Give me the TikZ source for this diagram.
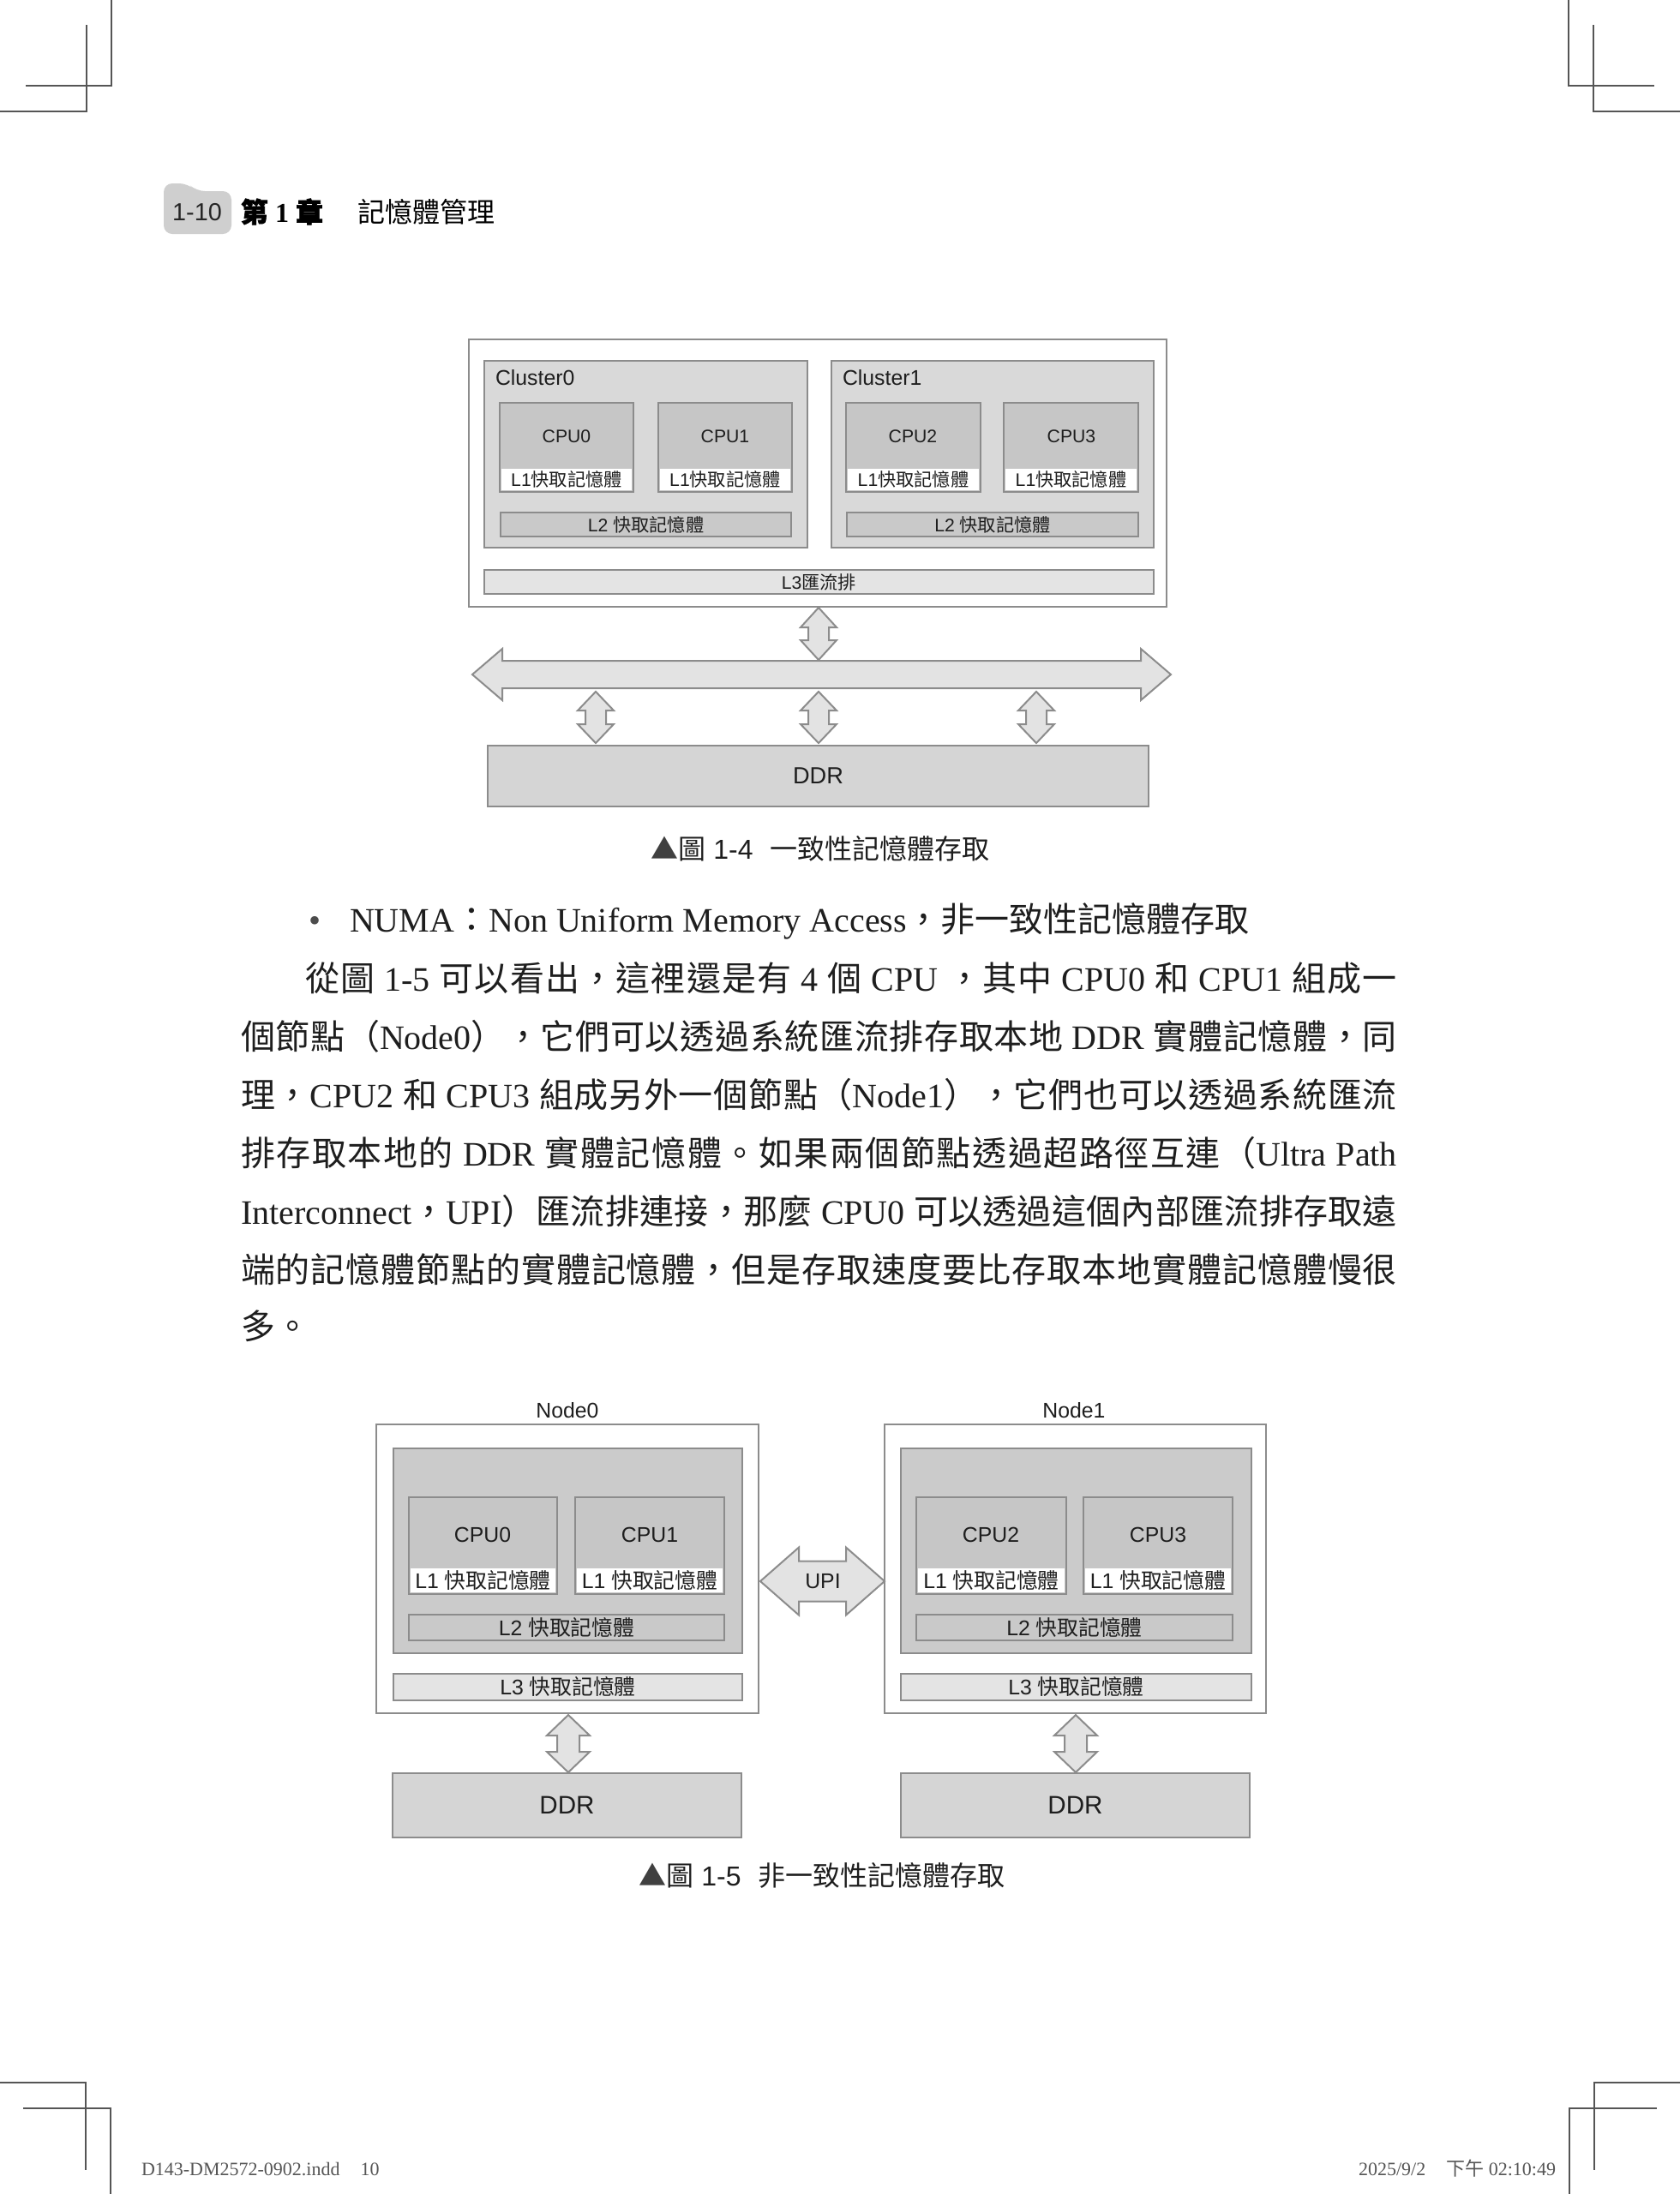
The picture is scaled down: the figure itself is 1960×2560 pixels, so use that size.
\documentclass[tikz,border=0pt]{standalone}
\usepackage{fontspec}
\setmainfont{Liberation Sans}
\newfontfamily\cjk{Noto Sans CJK TC}
\newfontfamily\cjkb{Noto Sans CJK TC}[FakeBold=2]
\newfontfamily\lserif{Liberation Serif}
\def\curlatin{\rmfamily}
\def\curcjk{\cjk}
% automatic font switching for CJK characters
\XeTeXinterchartokenstate=1
\chardef\CJKcls=10
\newcount\mycnt
\newcommand\setcls[2]{\mycnt=#1\relax
  \loop\XeTeXcharclass\mycnt=\CJKcls\relax
  \ifnum\mycnt<#2\relax\advance\mycnt by 1\relax\repeat}
\setcls{"3000}{"303F}
\setcls{"4E00}{"9FFF}
\setcls{"FF00}{"FFEF}
\setcls{"25B2}{"25B2}
\XeTeXinterchartoks 0 \CJKcls = {\curcjk}
\XeTeXinterchartoks 4095 \CJKcls = {\curcjk}
\XeTeXinterchartoks \CJKcls 0 = {\curlatin}
\XeTeXinterchartoks \CJKcls 4095 = {\curlatin}
\XeTeXinterchartoks \CJKcls \CJKcls = {\hskip 0pt plus 1.5pt\relax}

\definecolor{bordc}{HTML}{8C8C8C}
\definecolor{clus}{HTML}{D9D9D9}
\definecolor{cpuc}{HTML}{C6C6C6}
\definecolor{l2c}{HTML}{C9C9C9}
\definecolor{l3c}{HTML}{E4E4E4}
\definecolor{ddrc}{HTML}{D5D5D5}
\definecolor{arrc}{HTML}{E3E3E3}
\definecolor{nodein}{HTML}{CBCBCB}
\definecolor{tabc}{HTML}{CFCFCF}
\definecolor{txt}{HTML}{1E1E1E}
\definecolor{markc}{HTML}{555555}

\newcommand\bx[7]{%
  \pgfmathsetmacro\bxw{(#4-#2)*0.25}%
  \pgfmathsetmacro\bxh{(#5-#3)*0.25}%
  \node[#6, minimum width=\bxw pt, minimum height=\bxh pt] (#1) at ({(#2+#4)/2},{(#3+#5)/2}) {#7};}
% vertical double block arrow: cx, y1, y2, head width, shaft width, head length
\newcommand\varr[6]{%
  \filldraw[arrbox] (#1,#2) -- ({#1+#4/2},{#2+#6}) -- ({#1+#5/2},{#2+#6}) -- ({#1+#5/2},{#3-#6})
   -- ({#1+#4/2},{#3-#6}) -- (#1,#3) -- ({#1-#4/2},{#3-#6}) -- ({#1-#5/2},{#3-#6})
   -- ({#1-#5/2},{#2+#6}) -- ({#1-#4/2},{#2+#6}) -- cycle;}
% horizontal double block arrow: cy, x1, x2, head height, shaft height, head length
\newcommand\harr[6]{%
  \filldraw[arrbox] (#2,#1) -- ({#2+#6},{#1-#4/2}) -- ({#2+#6},{#1-#5/2}) -- ({#3-#6},{#1-#5/2})
   -- ({#3-#6},{#1-#4/2}) -- (#3,#1) -- ({#3-#6},{#1+#4/2}) -- ({#3-#6},{#1+#5/2})
   -- ({#2+#6},{#1+#5/2}) -- ({#2+#6},{#1+#4/2}) -- cycle;}

\begin{document}
\begin{tikzpicture}[x=0.25pt,y=-0.25pt,
  every node/.style={inner sep=0pt,outer sep=0pt,text=txt},
  obox/.style={draw=bordc,fill=white,line width=0.6pt},
  clbox/.style={draw=bordc,fill=clus,line width=0.5pt},
  inbox/.style={draw=bordc,fill=nodein,line width=0.5pt},
  cpubox/.style={draw=bordc,fill=cpuc,line width=0.5pt},
  band/.style={fill=white},
  l2box/.style={draw=bordc,fill=l2c,line width=0.5pt},
  l3box/.style={draw=bordc,fill=l3c,line width=0.5pt},
  ddrbox/.style={draw=bordc,fill=ddrc,line width=0.5pt},
  arrbox/.style={fill=arrc,draw=bordc,line width=0.5pt,line join=miter},
  crop/.style={draw=markc,line width=0.4pt},
  fa/.style={font=\fontsize{5.3pt}{6pt}\selectfont},
  fclu/.style={font=\fontsize{6.2pt}{7pt}\selectfont},
  fddra/.style={font=\fontsize{6.8pt}{8pt}\selectfont},
  fb/.style={font=\fontsize{6.2pt}{7pt}\selectfont},
  fddrb/.style={font=\fontsize{7.4pt}{8pt}\selectfont},
  fcap/.style={font=\fontsize{8pt}{9pt}\selectfont},
  fbody/.style={font=\def\curlatin{\lserif}\lserif\fontsize{10pt}{12pt}\selectfont},
  ffoot/.style={font=\def\curlatin{\lserif}\lserif\fontsize{5.5pt}{6pt}\selectfont,text=markc},
]
\useasboundingbox (0,0) rectangle (1960,2560);
\fill[white] (0,0) rectangle (1960,2560);

% ---------- crop marks ----------
\draw[crop] (130,0) -- (130,100) -- (30,100);
\draw[crop] (101,29) -- (101,130) -- (0,130);
\draw[crop] (1830,0) -- (1830,100) -- (1930,100);
\draw[crop] (1859,29) -- (1859,130) -- (1960,130);
\draw[crop] (0,2430) -- (100,2430) -- (100,2532);
\draw[crop] (27,2460) -- (129,2460) -- (129,2560);
\draw[crop] (1960,2430) -- (1860,2430) -- (1860,2532);
\draw[crop] (1933,2460) -- (1831,2460) -- (1831,2560);

% ---------- header ----------
\fill[tabc,rounded corners=2.5pt] (191,273) -- (191,214) -- (219,214) -- (229,223) -- (270,223) -- (270,273) -- cycle;
\node[font=\fontsize{7.2pt}{8pt}\selectfont,text=black!85] (pgno) at (230,248) {1-10};
\node[anchor=west,text=black,font=\def\curcjk{\cjkb}\def\curlatin{\lserif\bfseries}\lserif\bfseries\fontsize{8pt}{9pt}\selectfont] (chap) at (281,247) {第 1 章};
\node[anchor=west,text=black,font=\fontsize{8pt}{9pt}\selectfont] (chapt) at (417,247) {記憶體管理};

% ---------- Figure 1-4 ----------
\bx{outA}{547}{396}{1361}{708}{obox}{}
\bx{cl0}{565}{421}{942}{639}{clbox}{}
\bx{cl1}{970}{421}{1346}{639}{clbox}{}
\node[fclu,anchor=west] (cl0t) at (578,441) {Cluster0};
\node[fclu,anchor=west] (cl1t) at (983,441) {Cluster1};
\bx{cpu0}{583}{470}{739}{574}{cpubox}{}
\bx{cpu1}{768}{470}{924}{574}{cpubox}{}
\bx{cpu2}{987}{470}{1144}{574}{cpubox}{}
\bx{cpu3}{1171}{470}{1328}{574}{cpubox}{}
\bx{l1a0}{585}{547}{737}{572}{band,fa}{L1快取記憶體}
\bx{l1a1}{770}{547}{922}{572}{band,fa}{L1快取記憶體}
\bx{l1a2}{989}{547}{1142}{572}{band,fa}{L1快取記憶體}
\bx{l1a3}{1173}{547}{1326}{572}{band,fa}{L1快取記憶體}
\node[fa] (cpu0t) at (661,509) {CPU0};
\node[fa] (cpu1t) at (846,509) {CPU1};
\node[fa] (cpu2t) at (1065,509) {CPU2};
\node[fa] (cpu3t) at (1250,509) {CPU3};
\bx{l2a0}{584}{598}{923}{626}{l2box,fa}{L2 快取記憶體}
\bx{l2a1}{988}{598}{1328}{626}{l2box,fa}{L2 快取記憶體}
\bx{l3a}{565}{665}{1346}{693}{l3box,fa}{L3匯流排}
\varr{955}{709}{770}{42}{24}{23}
\harr{787}{551}{1366}{60}{32}{35}
\varr{695}{807}{867}{42}{24}{22}
\varr{955}{807}{867}{42}{24}{22}
\varr{1209}{807}{867}{42}{24}{22}
\bx{ddrA}{569}{870}{1340}{941}{ddrbox,fddra}{DDR}
\node[fcap] (capA) at (957,990) {{\color{black!75}▲}圖 1-4\hspace{5pt}一致性記憶體存取};

% ---------- body text ----------
\node[fbody,anchor=base,text=black!70] (bul) at (367,1087) {•};
\node[fbody,anchor=base west] (t1) at (408,1087) {NUMA：Non Uniform Memory Access，非一致性記憶體存取};
\node[fbody,anchor=base west] (t2) at (356,1156) {\hbox to 318.5pt{從圖 1-5 可以看出，這裡還是有 4 個 CPU ，其中 CPU0 和 CPU1 組成一}};
\node[fbody,anchor=base west] (t3) at (281,1224) {\hbox to 337.25pt{個節點（Node0），它們可以透過系統匯流排存取本地 DDR 實體記憶體，同}};
\node[fbody,anchor=base west] (t4) at (281,1292) {\hbox to 337.25pt{理，CPU2 和 CPU3 組成另外一個節點（Node1），它們也可以透過系統匯流}};
\node[fbody,anchor=base west] (t5) at (281,1360) {\hbox to 337.25pt{排存取本地的 DDR 實體記憶體。如果兩個節點透過超路徑互連（Ultra Path}};
\node[fbody,anchor=base west] (t6) at (281,1428) {\hbox to 337.25pt{Interconnect，UPI）匯流排連接，那麼 CPU0 可以透過這個內部匯流排存取遠}};
\node[fbody,anchor=base west] (t7) at (281,1496) {\hbox to 337.25pt{端的記憶體節點的實體記憶體，但是存取速度要比存取本地實體記憶體慢很}};
\node[fbody,anchor=base west] (t8) at (281,1562) {多。};

% ---------- Figure 1-5 ----------
\node[fb] (n0t) at (662,1646) {Node0};
\node[fb] (n1t) at (1253,1646) {Node1};
\bx{n0}{439}{1662}{885}{1999}{obox}{}
\bx{n1}{1032}{1662}{1477}{1999}{obox}{}
\bx{n0i}{459}{1690}{866}{1929}{inbox}{}
\bx{n1i}{1051}{1690}{1460}{1929}{inbox}{}
\bx{c0}{477}{1747}{650}{1860}{cpubox}{}
\bx{c1}{671}{1747}{845}{1860}{cpubox}{}
\bx{c2}{1069}{1747}{1244}{1860}{cpubox}{}
\bx{c3}{1264}{1747}{1438}{1860}{cpubox}{}
\bx{b0}{479}{1830}{648}{1858}{band,fb}{L1 快取記憶體}
\bx{b1}{673}{1830}{843}{1858}{band,fb}{L1 快取記憶體}
\bx{b2}{1071}{1830}{1242}{1858}{band,fb}{L1 快取記憶體}
\bx{b3}{1266}{1830}{1436}{1858}{band,fb}{L1 快取記憶體}
\node[fb] (c0t) at (563,1791) {CPU0};
\node[fb] (c1t) at (758,1791) {CPU1};
\node[fb] (c2t) at (1156,1791) {CPU2};
\node[fb] (c3t) at (1351,1791) {CPU3};
\bx{m20}{477}{1884}{845}{1914}{l2box,fb}{L2 快取記憶體}
\bx{m21}{1069}{1884}{1438}{1914}{l2box,fb}{L2 快取記憶體}
\bx{m30}{459}{1953}{866}{1984}{l3box,fb}{L3 快取記憶體}
\bx{m31}{1051}{1953}{1460}{1984}{l3box,fb}{L3 快取記憶體}
\harr{1845}{887}{1032}{79}{47}{45}
\node[fb] (upi) at (960,1845) {UPI};
\varr{663}{2001}{2068}{50}{26}{24}
\varr{1255}{2001}{2068}{50}{26}{24}
\bx{d0}{458}{2069}{865}{2144}{ddrbox,fddrb}{DDR}
\bx{d1}{1051}{2069}{1458}{2144}{ddrbox,fddrb}{DDR}
\node[fcap] (capB) at (959,2188) {{\color{black!75}▲}圖 1-5\hspace{5pt}非一致性記憶體存取};

% ---------- footer ----------
\node[ffoot,anchor=base west] (fl) at (165,2538) {D143-DM2572-0902.indd\hspace{6pt}10};
\node[ffoot,anchor=base east] (fr) at (1815,2538) {2025/9/2\hspace{6pt}下午 02:10:49};
\end{tikzpicture}
\end{document}
